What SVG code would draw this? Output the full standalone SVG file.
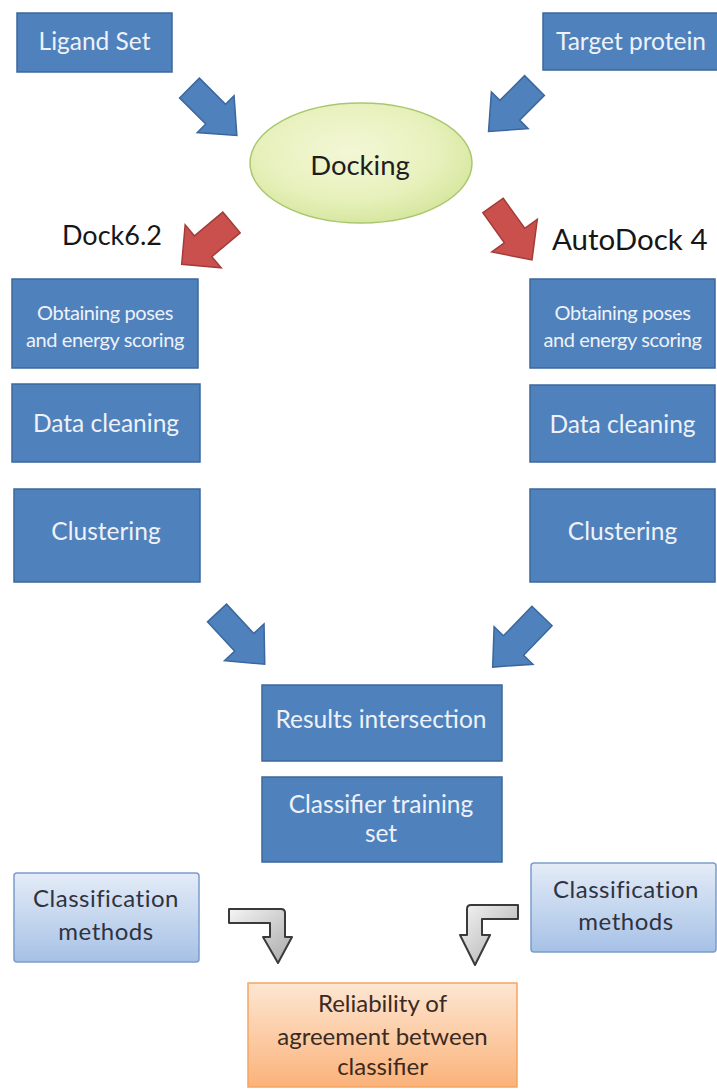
<svg xmlns="http://www.w3.org/2000/svg" width="717" height="1089" viewBox="0 0 717 1089">
<defs>
<radialGradient id="gEll" cx="0.45" cy="0.4" r="0.65">
<stop offset="0" stop-color="#f3f7d6"/>
<stop offset="0.6" stop-color="#e8f1bd"/>
<stop offset="1" stop-color="#d3e59a"/>
</radialGradient>
<linearGradient id="gCls" x1="0" y1="0" x2="0" y2="1">
<stop offset="0" stop-color="#e4ecf7"/>
<stop offset="1" stop-color="#a6c1e6"/>
</linearGradient>
<linearGradient id="gRel" x1="0" y1="0" x2="0" y2="1">
<stop offset="0" stop-color="#fde6d2"/>
<stop offset="1" stop-color="#fbb27a"/>
</linearGradient>
<linearGradient id="gBent" x1="0" y1="0" x2="1" y2="1">
<stop offset="0" stop-color="#f4f4f4"/>
<stop offset="1" stop-color="#a9a9a9"/>
</linearGradient>
</defs>
<style>
text{font-family:Lato,"Liberation Sans",sans-serif;text-anchor:middle}
.bx{fill:#4f81bd;stroke:#3b679c;stroke-width:1.5}
.bt{fill:#eef2f8;font-size:24.5px}
.st{fill:#eef2f8;font-size:20px;letter-spacing:-0.4px}
.cls{fill:url(#gCls);stroke:#7b9dcc;stroke-width:1.5}
.ct{fill:#2f3340;font-size:24px;letter-spacing:0.5px}
.rel{fill:url(#gRel);stroke:#f5a561;stroke-width:1.5}
.rt{fill:#3a2a22;font-size:24px}
.lbl{fill:#161616;text-anchor:start}
.ba{fill:#4f81bd;stroke:#3b679c;stroke-width:1.5;stroke-linejoin:miter}
.ra{fill:#c9504c;stroke:#a33c39;stroke-width:1.5}
.ga{fill:url(#gBent);stroke:#3a3a3a;stroke-width:2;stroke-linejoin:round}
</style>
<rect width="717" height="1089" fill="#ffffff"/>

<g id="connectors">
<polygon class="ba" transform="translate(189.5,88) rotate(45)" points="0,-14 37,-14 37,-26 67,0 37,26 37,14 0,14"/>
<polygon class="ba" transform="translate(534.5,85.5) rotate(135)" points="0,-14 35,-14 35,-26 65,0 35,26 35,14 0,14"/>
<polygon class="ra" transform="translate(231.5,222.5) rotate(140)" points="0,-13.5 37,-13.5 37,-28 65,0 37,28 37,13.5 0,13.5"/>
<polygon class="ra" transform="translate(493,205.5) rotate(54.4)" points="0,-12.5 37,-12.5 37,-28 67,0 37,28 37,12.5 0,12.5"/>
<polygon class="ba" transform="translate(217,613) rotate(47)" points="0,-13 40,-13 40,-27 70,0 40,27 40,13 0,13"/>
<polygon class="ba" transform="translate(542,616) rotate(134)" points="0,-14 41,-14 41,-27 71,0 41,27 41,14 0,14"/>
<path class="ga" d="M229,909 H281 Q285,909 285,913 V937 H292 L278,963 L263,937 H270 V923 H229 Z"/>
<path class="ga" d="M518,905 H471 Q467,905 467,909 V935 H460 L475,965 L490,935 H482 V919 H518 Z"/>
</g>

<g id="ligand">
<rect class="bx" x="17" y="13" width="155" height="59"/>
<text class="bt" x="94.5" y="50" font-size="22.5">Ligand Set</text>
</g>
<g id="target">
<rect class="bx" x="543" y="13" width="176" height="57"/>
<text class="bt" x="631" y="50" font-size="23">Target protein</text>
</g>
<g id="docking">
<ellipse cx="361" cy="163" rx="111" ry="60" fill="url(#gEll)" stroke="#a9c86e" stroke-width="1.5"/>
<text x="360" y="175" fill="#1e1e1e" font-size="27.5">Docking</text>
</g>
<g id="dock62">
<text class="lbl" x="62" y="245" font-size="27">Dock6.2</text>
</g>
<g id="autodock4">
<text class="lbl" x="552" y="250" font-size="29.5">AutoDock 4</text>
</g>

<g id="dock-obtain">
<rect class="bx" x="12" y="279" width="186" height="89"/>
<text class="st" x="105" y="320">Obtaining poses</text>
<text class="st" x="105" y="347">and energy scoring</text>
</g>
<g id="dock-clean">
<rect class="bx" x="12" y="384" width="188" height="78"/>
<text class="bt" x="106" y="432">Data cleaning</text>
</g>
<g id="dock-cluster">
<rect class="bx" x="14" y="489" width="186" height="93"/>
<text class="bt" x="106" y="540" font-size="24">Clustering</text>
</g>

<g id="ad-obtain">
<rect class="bx" x="530" y="279" width="185" height="89"/>
<text class="st" x="622.5" y="320">Obtaining poses</text>
<text class="st" x="622.5" y="347">and energy scoring</text>
</g>
<g id="ad-clean">
<rect class="bx" x="530" y="385" width="185" height="77"/>
<text class="bt" x="622.5" y="433">Data cleaning</text>
</g>
<g id="ad-cluster">
<rect class="bx" x="530" y="489" width="185" height="93"/>
<text class="bt" x="622.5" y="540" font-size="24">Clustering</text>
</g>

<g id="results">
<rect class="bx" x="262" y="685" width="240" height="76"/>
<text class="bt" x="381" y="728" font-size="24">Results intersection</text>
</g>
<g id="training">
<rect class="bx" x="262" y="777" width="240" height="85"/>
<text class="bt" x="381" y="813">Classifier training</text>
<text class="bt" x="381" y="842">set</text>
</g>

<g id="class-left">
<rect class="cls" x="14" y="873" width="185" height="89" rx="3"/>
<text class="ct" x="106" y="907">Classification</text>
<text class="ct" x="106" y="940">methods</text>
</g>
<g id="class-right">
<rect class="cls" x="531" y="863" width="185" height="89" rx="3"/>
<text class="ct" x="626" y="898">Classification</text>
<text class="ct" x="626" y="930">methods</text>
</g>

<g id="reliability">
<rect class="rel" x="248" y="983" width="269" height="104"/>
<text class="rt" x="382.5" y="1012">Reliability of</text>
<text class="rt" x="382.5" y="1045">agreement between</text>
<text class="rt" x="382.5" y="1075">classifier</text>
</g>
</svg>
